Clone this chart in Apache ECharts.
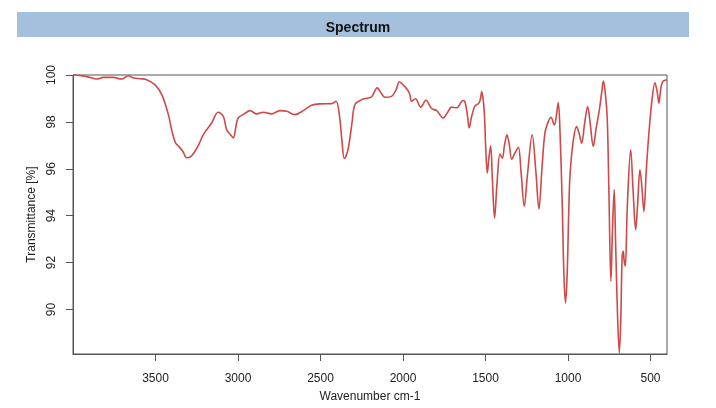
<!DOCTYPE html>
<html>
<head>
<meta charset="utf-8">
<script src="https://cdn.jsdelivr.net/npm/echarts@6/dist/echarts.min.js"></script>
<style>html,body{margin:0;padding:0;background:#fff;}#c{width:716px;height:408px;}</style>
</head>
<body>
<div id="c"></div>
<script>
const wavenumber = [4000,3990,3930,3900,3856,3816,3756,3705,3665,3635,3590,3554,3504,3462,3422,3400,3380,3362,3335,3311,3290,3271,3240,3210,3160,3120,3089,3069,3045,3029,3010,2999,2960,2927,2887,2847,2796,2746,2705,2655,2604,2554,2503,2432,2406,2386,2370,2356,2345,2331,2310,2291,2250,2210,2190,2156,2130,2109,2069,2040,2023,1982,1960,1948,1924,1893,1861,1827,1796,1756,1730,1706,1676,1636,1625,1610,1599,1585,1564,1540,1530,1523,1515,1507,1498,1489,1479,1469,1458,1445,1430,1412,1398,1385,1370,1355,1341,1320,1301,1285,1265,1245,1217,1195,1176,1158,1140,1120,1103,1083,1070,1059,1048,1035,1025,1015,1005,995,988,970,948,932,917,900,881,865,847,830,810,795,786,775,762,752,740,730,720,712,700,689,680,672,665,660,653,640,620,605,590,578,564,552,540,525,508,490,473,460,449,438,426,406,400];
const transmittance = [100.0,100.0,99.95,99.9,99.83,99.9,99.9,99.83,99.97,99.87,99.84,99.8,99.59,99.16,98.31,97.6,97.12,96.98,96.75,96.47,96.5,96.64,97.0,97.46,97.95,98.41,98.24,97.67,97.45,97.32,97.9,98.17,98.35,98.48,98.34,98.41,98.34,98.48,98.45,98.31,98.48,98.71,98.77,98.78,98.88,98.31,97.2,96.44,96.55,96.89,97.9,98.74,98.95,99.02,99.07,99.45,99.2,99.05,99.09,99.4,99.7,99.45,99.2,98.88,98.99,98.63,98.92,98.57,98.48,98.17,98.4,98.63,98.6,98.91,98.87,98.3,97.74,98.2,98.68,98.8,99.0,99.29,99.0,98.37,96.8,95.82,96.5,96.98,95.5,93.9,95.4,96.63,96.45,97.0,97.45,97.0,96.41,96.7,96.92,95.9,94.4,95.8,97.45,95.9,94.28,96.0,97.52,98.0,98.2,97.87,98.3,98.82,97.5,94.5,91.5,90.28,91.5,94.3,95.7,97.1,97.8,97.5,97.09,97.9,98.65,97.9,96.95,97.7,98.51,99.3,99.74,99.3,98.09,95.0,91.2,93.5,95.11,93.0,89.8,88.15,89.6,92.2,92.48,92.1,91.84,94.5,96.81,95.0,93.4,94.5,95.96,95.2,94.18,96.0,97.66,99.0,99.67,99.3,98.8,99.4,99.72,99.79,99.8];
const xTicks = [500,1000,1500,2000,2500,3000,3500];
const yTicks = [90,92,94,96,98,100];

const data = wavenumber.map((w, i) => [w, transmittance[i]]);
const chart = echarts.init(document.getElementById('c'), null, {renderer: 'canvas'});
const font = '"Liberation Sans", Arial, sans-serif';
chart.setOption({
  animation: false,
  graphic: [{
    type: 'rect', shape: {x: 17, y: 12, width: 672, height: 25},
    style: {fill: '#a5c0dd'}, z: -1
  }],
  title: {
    text: 'Spectrum', left: 'center', top: 16,
    textStyle: {fontFamily: font, fontSize: 14, fontWeight: 'bold', color: '#111'}
  },
  grid: {left: 73, top: 75, width: 594, height: 279, show: true, borderColor: '#555', borderWidth: 1, backgroundColor: 'transparent'},
  xAxis: {
    type: 'value', min: 400, max: 4000, inverse: true,
    name: 'Wavenumber cm-1', nameLocation: 'middle', nameGap: 37,
    nameTextStyle: {fontFamily: font, fontSize: 12, color: '#222'},
    axisLine: {show: true, lineStyle: {color: '#555'}},
    axisTick: {show: true, length: 7, lineStyle: {color: '#555'}, customValues: xTicks},
    axisLabel: {fontFamily: font, fontSize: 12, color: '#222', margin: 19, customValues: xTicks, formatter: v => String(v)},
    splitLine: {show: false}
  },
  yAxis: {
    type: 'value', min: 88.1, max: 100,
    name: 'Transmittance [%]', nameLocation: 'middle', nameGap: 34,
    nameTextStyle: {fontFamily: font, fontSize: 12, color: '#222'},
    axisLine: {show: true, lineStyle: {color: '#555'}},
    axisTick: {show: true, length: 7, lineStyle: {color: '#555'}, customValues: yTicks},
    axisLabel: {fontFamily: font, fontSize: 12, color: '#222', margin: 15, rotate: 90, customValues: yTicks, formatter: v => String(v)},
    splitLine: {show: false}
  },
  series: [{
    type: 'line', data: data, showSymbol: false, smooth: 0.35,
    lineStyle: {color: '#d04848', width: 1.6},
    clip: true
  }]
});
</script>
</body>
</html>
